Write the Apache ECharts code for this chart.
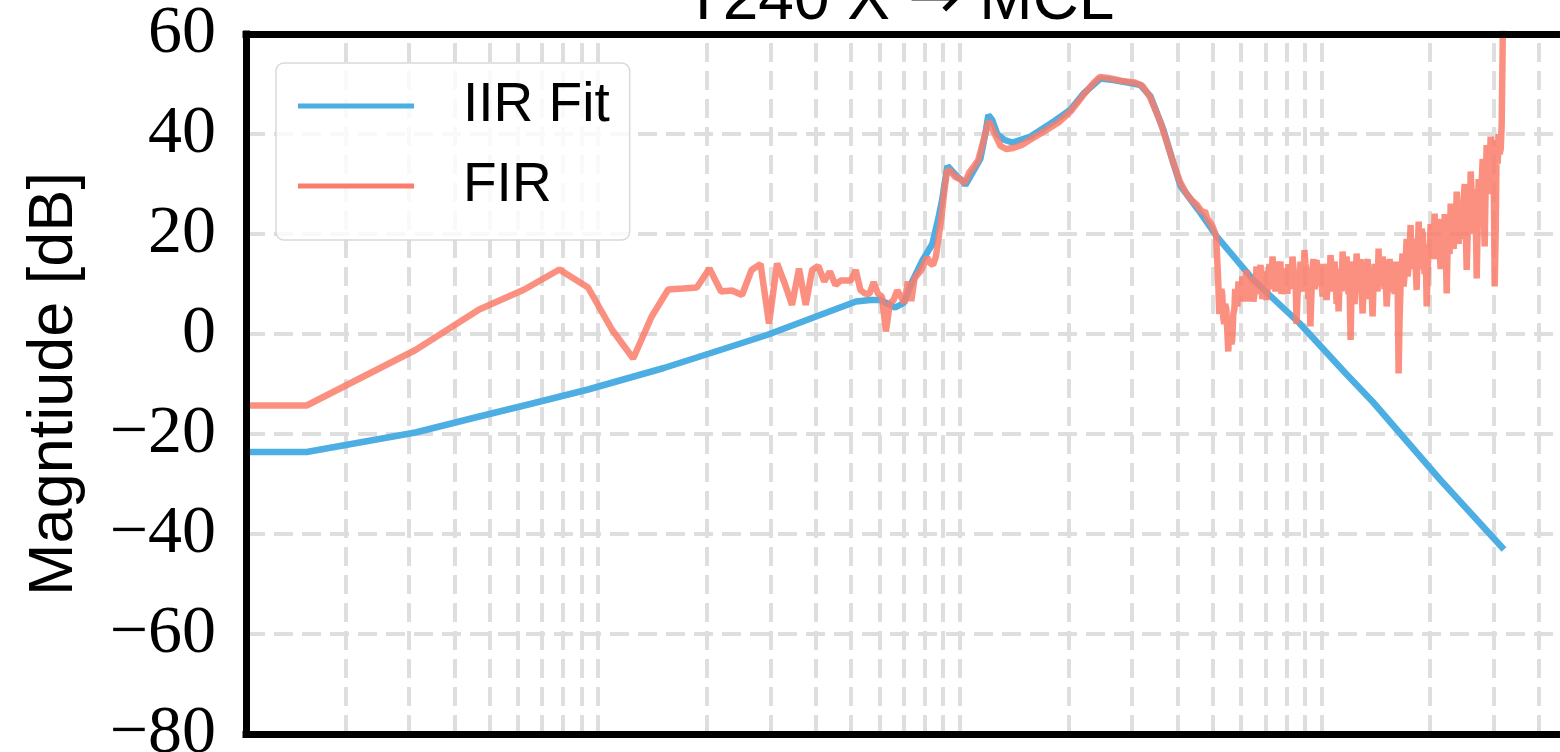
<!DOCTYPE html>
<html>
<head>
<meta charset="utf-8">
<script src="https://cdn.jsdelivr.net/npm/echarts@6/dist/echarts.min.js"></script>
<style>
html,body{margin:0;padding:0;background:#fff;overflow:hidden;}
#chart{width:1560px;height:752px;}
</style>
</head>
<body>
<div id="chart"></div>
<script>
// ---- text ----
const titleLeft = 'T240 X ';
const titleArrow = '\u2192';
const titleRight = ' MCL';
const yLabel = 'Magntiude [dB]';
const seriesNames = ['IIR Fit', 'FIR'];
// ---- ticks ----
const yTicks = [-80, -60, -40, -20, 0, 20, 40, 60];
const xGridTicks = [0.02,0.03,0.04,0.05,0.06,0.07,0.08,0.09,0.1,
                    0.2,0.3,0.4,0.5,0.6,0.7,0.8,0.9,1,
                    2,3,4,5,6,7,8,9,10,20,30,40];

// ---- IIR fit (frequency Hz, magnitude dB) ----
const iirFreq = [0, 0.015625, 0.03125, 0.0469, 0.0649, 0.0938, 0.152, 0.203, 0.293, 0.411,
  0.517, 0.566, 0.603, 0.663, 0.700, 0.74, 0.79, 0.84, 0.875, 0.895,
  0.91, 0.925, 0.955, 0.98, 1.02, 1.036, 1.07, 1.14, 1.18, 1.20,
  1.23, 1.27, 1.33, 1.40, 1.57, 1.82, 2.02, 2.20, 2.45, 2.66,
  3.02, 3.16, 3.37, 3.66, 3.90, 4.08, 4.57, 5.14, 6.49, 8.69,
  11.65, 13.89, 21.35, 32.0];
const iirMag = [-23.6, -23.6, -19.7, -16.5, -14.0, -11.1, -6.8, -3.9, -0.2, 3.8,
  6.5, 6.8, 6.8, 5.3, 6.2, 10.6, 14.8, 18.0, 23.5, 27.0,
  30.5, 33.6, 32.5, 31.6, 30.6, 29.8, 31.5, 35.0, 40.5, 43.8,
  42.8, 40.0, 38.8, 38.3, 39.5, 42.5, 44.8, 48.1, 51.1, 50.8,
  50.1, 49.8, 47.5, 40.8, 34.1, 29.6, 24.8, 19.5, 10.8, 2.2,
  -7.8, -13.6, -29.2, -43.1];

// ---- FIR (frequency Hz, magnitude dB) ----
const firFreq = [0, 0.015625, 0.03125, 0.046875, 0.0625, 0.078125, 0.09375, 0.109375, 0.125, 0.140625,
  0.15625, 0.171875, 0.1875, 0.203125, 0.21875, 0.234375, 0.25, 0.265625, 0.28125, 0.296875,
  0.3125, 0.328125, 0.34375, 0.359375, 0.375, 0.390625, 0.40625, 0.421875, 0.4375, 0.453125,
  0.46875, 0.484375, 0.5, 0.515625, 0.53125, 0.546875, 0.5625, 0.578125, 0.59375, 0.609375,
  0.625, 0.640625, 0.65625, 0.671875, 0.6875, 0.703125, 0.71875, 0.734375, 0.75, 0.765625,
  0.78125, 0.796875, 0.8125, 0.828125, 0.84375, 0.859375, 0.875, 0.890625, 0.90625, 0.921875,
  0.9375, 0.96875, 1.0, 1.03125, 1.0625, 1.09375, 1.125, 1.171875, 1.203125, 1.21875,
  1.25, 1.296875, 1.34375, 1.40625, 1.484375, 1.5625, 1.71875, 1.875, 2.03125, 2.1875,
  2.34375, 2.4375, 2.578125, 2.8125, 3.046875, 3.203125, 3.359375, 3.59375, 3.828125, 3.90625,
  4.0625, 4.21875, 4.375, 4.53125, 4.6875, 4.765625, 4.84375, 4.921875, 5.0, 5.09375,
  5.12, 5.16, 5.19, 5.22, 5.26, 5.29, 5.32, 5.36, 5.39, 5.42,
  5.46, 5.50, 5.53, 5.57, 5.60, 5.64, 5.67, 5.71, 5.75, 5.78,
  5.82, 5.86, 5.90, 5.94, 5.97, 6.01, 6.05, 6.09, 6.13, 6.17,
  6.21, 6.25, 6.29, 6.33, 6.37, 6.41, 6.45, 6.49, 6.53, 6.58,
  6.62, 6.66, 6.70, 6.74, 6.79, 6.83, 6.87, 6.92, 6.96, 7.00,
  7.05, 7.10, 7.14, 7.19, 7.23, 7.28, 7.33, 7.38, 7.42, 7.47,
  7.52, 7.57, 7.61, 7.66, 7.71, 7.76, 7.81, 7.86, 7.91, 7.96,
  8.01, 8.06, 8.11, 8.17, 8.22, 8.27, 8.32, 8.38, 8.43, 8.49,
  8.54, 8.60, 8.65, 8.71, 8.76, 8.82, 8.87, 8.93, 8.98, 9.04,
  9.10, 9.16, 9.21, 9.27, 9.33, 9.39, 9.45, 9.51, 9.57, 9.64,
  9.70, 9.76, 9.82, 9.89, 9.95, 10.01, 10.08, 10.14, 10.21, 10.27,
  10.34, 10.40, 10.47, 10.54, 10.60, 10.67, 10.74, 10.81, 10.88, 10.95,
  11.02, 11.09, 11.16, 11.23, 11.30, 11.38, 11.45, 11.52, 11.59, 11.67,
  11.74, 11.82, 11.89, 11.97, 12.05, 12.12, 12.20, 12.28, 12.36, 12.44,
  12.52, 12.60, 12.68, 12.76, 12.84, 12.92, 13.01, 13.09, 13.17, 13.26,
  13.34, 13.43, 13.51, 13.60, 13.69, 13.77, 13.86, 13.95, 14.04, 14.13,
  14.22, 14.31, 14.40, 14.50, 14.59, 14.68, 14.77, 14.87, 14.96, 15.06,
  15.16, 15.25, 15.35, 15.45, 15.55, 15.65, 15.75, 15.85, 15.95, 16.05,
  16.15, 16.26, 16.36, 16.46, 16.57, 16.67, 16.78, 16.89, 17.00, 17.11,
  17.22, 17.33, 17.44, 17.55, 17.66, 17.77, 17.89, 18.00, 18.12, 18.23,
  18.35, 18.47, 18.59, 18.70, 18.82, 18.94, 19.07, 19.19, 19.31, 19.43,
  19.56, 19.68, 19.81, 19.93, 20.06, 20.19, 20.32, 20.45, 20.58, 20.71,
  20.85, 20.98, 21.11, 21.24, 21.38, 21.52, 21.66, 21.80, 21.94, 22.08,
  22.22, 22.36, 22.50, 22.64, 22.79, 22.93, 23.08, 23.23, 23.38, 23.53,
  23.68, 23.83, 23.98, 24.13, 24.29, 24.44, 24.60, 24.76, 24.92, 25.08,
  25.24, 25.40, 25.56, 25.72, 25.89, 26.05, 26.22, 26.39, 26.56, 26.73,
  26.90, 27.07, 27.24, 27.41, 27.59, 27.76, 27.94, 28.12, 28.30, 28.48,
  28.66, 28.84, 29.03, 29.21, 29.40, 29.59, 29.78, 29.97, 30.16, 30.35,
  30.55, 30.74, 30.94, 31.14, 31.34, 31.54, 31.74, 32.0];
const firMag = [-14.3, -14.3, -3.2, 4.9, 8.9, 12.9, 9.3, 0.8, -4.9, 3.5,
  8.9, 9.1, 9.3, 13.1, 8.5, 8.7, 7.8, 12.8, 14.0, 2.1,
  14.1, 10.1, 5.8, 13.1, 5.8, 12.8, 13.6, 10.5, 12.5, 9.8,
  10.7, 10.7, 10.7, 12.8, 8.8, 8.1, 8.0, 10.4, 8.1, 7.5,
  0.5, 6.1, 6.8, 8.7, 7.5, 6.2, 10.5, 6.6, 11.1, 12.0,
  12.7, 14.0, 15.3, 14.2, 13.8, 15.5, 19.5, 23.5, 28.5, 32.5,
  32.8, 31.5, 31.0, 30.2, 32.3, 33.5, 34.8, 39.5, 42.6, 41.8,
  40.0, 37.6, 37.0, 37.2, 37.8, 38.8, 40.6, 42.3, 44.6, 47.6,
  50.2, 51.4, 51.2, 50.6, 50.3, 49.6, 47.4, 42.3, 36.0, 34.0,
  30.5, 28.3, 26.8, 25.8, 24.3, 24.6, 23.0, 22.3, 21.6, 20.0,
  19.5, 14, 10, 4, 6, 9, 8, 3, 2, 6,
  5, 0, -3.5, 3, 1, -2, -1.2, 4, 5, 9,
  7.5, 5.5, 10.5, 7, 8.8, 6.5, 11.5, 7.5, 8, 10.5,
  12.8, 6.5, 9, 10.5, 7, 9.5, 11.5, 6.5, 8, 9.5,
  13.5, 8, 10, 12, 13.8, 9.5, 7, 12.5, 11, 10,
  6.8, 9, 12, 14, 9, 10, 15.5, 10.5, 12, 8.5,
  14.5, 9, 11, 13, 14.5, 8, 9.5, 12.5, 13, 10,
  9.1, 8, 14, 9.5, 11, 9, 15.5, 13, 10, 11,
  2, 8, 12, 9, 14.5, 12.5, 10, 8.5, 16.8, 14,
  12, 9.5, 7, 11, 1.5, 8, 13, 15, 9, 10,
  14.8, 12, 10, 13, 14, 11, 7.5, 14, 12.5, 10,
  6.8, 9.5, 13, 9, 15.8, 13.5, 11, 8.5, 14.5, 11.5,
  6, 13, 4.5, 10, 13, 8.5, 16.5, 12, 10, 9,
  15.5, 12.5, 8, 10, -1.2, 8, 12, 14.5, 6, 10,
  16.1, 12.5, 9, 13, 15, 9.5, 4.1, 10, 12, 7,
  13.5, 15, 8, 11.5, 12.5, 9, 3.5, 10, 14, 12,
  10, 8.5, 17.1, 9.5, 12, 10, 15.5, 13, 9, 12,
  5.5, 9, 13, 15, 10, 8.5, 14.1, 11, 8, 14.5,
  12, 10, -7.9, 3, 10, 13, 16.1, 9.5, 12, 14.5,
  19, 11.5, 14, 17, 21.8, 13, 16, 18.5, 19, 14,
  8.8, 16, 22.5, 13, 17, 21, 20, 15, 12, 18,
  5.5, 12, 18, 15.5, 22, 19, 15, 17, 24.1, 15,
  19, 22, 23, 17, 13, 21, 18.8, 15, 24, 17,
  8.1, 18, 22, 16, 26.1, 23, 20, 17, 25, 21,
  28.5, 23, 18, 24, 26, 19, 22, 27, 30, 21,
  12.8, 20, 27, 23, 32.5, 28, 24, 20, 29, 25,
  11.1, 22, 31, 24, 27, 30, 35, 26, 17.5, 30,
  37.8, 28, 30, 34, 39.5, 31, 36, 33, 9.5, 20,
  38.8, 34, 40, 36, 37, 42, 58, 80];

// ---- chart ----
const X_MIN = 0.01062, X_MAX = 46.9;
function pairs(freq, mag) {
  // DC bin (0 Hz) is pinned to the left edge of the log axis, as a log plot clips it
  return freq.map((f, i) => [f <= 0 ? X_MIN : f, mag[i]]);
}
const BLUE = '#4caee2';
const SALMON = '#fa7d6b';
const GRID_COLOR = '#dedede';
const SPINE = {color: '#000', width: 7, cap: 'square'};

const chart = echarts.init(document.getElementById('chart'), null, {renderer: 'canvas'});
chart.setOption({
  animation: false,
  backgroundColor: '#fff',
  grid: {
    left: 246, right: -4, top: 34, bottom: 18,
    outerBoundsMode: 'none', containLabel: false, show: false
  },
  graphic: [{
    type: 'text', x: 899, y: 1, z: 20,
    style: {
      text: '{a|' + titleLeft + '}{b|' + titleArrow + '}{a|' + titleRight + '}',
      textAlign: 'center', verticalAlign: 'middle',
      rich: {
        a: {fontFamily: 'Liberation Sans', fontSize: 64, fill: '#000', color: '#000'},
        b: {fontFamily: 'DejaVu Sans', fontSize: 64, fill: '#000', color: '#000'}
      }
    }
  }],
  legend: {
    orient: 'vertical', left: 276, top: 63,
    padding: [13, 20, 24, 22],
    itemWidth: 116, itemHeight: 5, itemGap: 20,
    icon: 'rect',
    backgroundColor: 'rgba(255,255,255,0.8)',
    borderColor: '#d9d9d9', borderWidth: 1.5, borderRadius: 8,
    textStyle: {fontFamily: 'Liberation Sans', fontSize: 55, color: '#000', padding: [0, 0, 0, 44], lineHeight: 60},
    data: seriesNames,
    z: 12
  },
  xAxis: [
    {
      type: 'log', logBase: 10, min: X_MIN, max: X_MAX, position: 'bottom', z: 5,
      axisLine: {show: true, onZero: false, lineStyle: SPINE},
      axisTick: {show: false}, axisLabel: {show: false}, splitLine: {show: false}
    },
    {
      type: 'log', logBase: 10, min: X_MIN, max: X_MAX, position: 'top', z: 5,
      axisLine: {show: true, onZero: false, lineStyle: SPINE},
      axisTick: {show: false}, axisLabel: {show: false}, splitLine: {show: false}
    }
  ],
  yAxis: [
    {
      type: 'value', min: yTicks[0], max: yTicks[yTicks.length - 1], interval: 20, z: 0,
      axisLine: {show: false}, axisTick: {show: false},
      axisLabel: {
        margin: 30, color: '#000', fontFamily: 'Liberation Serif', fontSize: 68,
        formatter: v => (v < 0 ? '\u2212' + Math.abs(v) : String(v))
      },
      splitLine: {show: true, lineStyle: {color: GRID_COLOR, width: 4, type: [19, 9]}},
      name: yLabel, nameLocation: 'middle', nameRotate: 90, nameGap: 160,
      nameTextStyle: {fontFamily: 'Liberation Sans', fontSize: 63, color: '#000'}
    },
    {
      type: 'value', min: yTicks[0], max: yTicks[yTicks.length - 1], interval: 20,
      position: 'left', z: 5,
      axisLine: {show: true, onZero: false, lineStyle: SPINE},
      axisTick: {show: false}, axisLabel: {show: false}, splitLine: {show: false}
    }
  ],
  series: [
    {
      name: seriesNames[0], type: 'line', data: pairs(iirFreq, iirMag),
      xAxisIndex: 0, yAxisIndex: 0,
      showSymbol: false, symbol: 'none', z: 3, clip: true,
      lineStyle: {color: BLUE, width: 6.5}, itemStyle: {color: BLUE},
      markLine: {
        silent: true, z: 1, symbol: ['none', 'none'], animation: false,
        label: {show: false}, emphasis: {disabled: true},
        lineStyle: {color: GRID_COLOR, width: 4, type: [19, 9]},
        data: xGridTicks.map(v => ({xAxis: v}))
      }
    },
    {
      name: seriesNames[1], type: 'line', data: pairs(firFreq, firMag),
      xAxisIndex: 0, yAxisIndex: 0,
      showSymbol: false, symbol: 'none', z: 4, clip: true,
      lineStyle: {color: SALMON, width: 6.5, opacity: 0.85}, itemStyle: {color: SALMON}
    }
  ]
});
</script>
</body>
</html>
